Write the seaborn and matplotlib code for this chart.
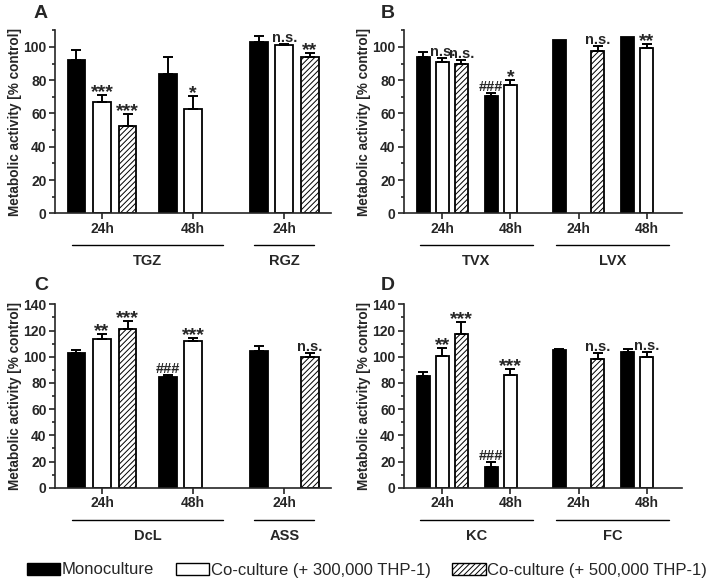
import matplotlib
matplotlib.use("Agg")
import pandas as pd
import matplotlib.pyplot as plt
import matplotlib.patches as mpatches
import matplotlib.transforms as mtrans
from matplotlib.ticker import MultipleLocator
import seaborn as sns

CONDITIONS = [
    "Monoculture",
    "Co-culture (+ 300,000 THP-1)",
    "Co-culture (+ 500,000 THP-1)",
]
PALETTE = dict(zip(CONDITIONS, ["black", "white", "white"]))

# Panel A
A_CATS = ["TGZ 24h", "TGZ 24h", "TGZ 24h", "TGZ 48h", "TGZ 48h", "RGZ 24h", "RGZ 24h", "RGZ 24h"]
A_COND = [0, 1, 2, 0, 1, 0, 1, 2]
A_MEAN = [92, 67, 52.5, 84, 62.5, 103, 101, 94]
A_ERR = [6, 4, 7, 10, 8, 3.5, 1, 2.5]
A_MARK = ["", "***", "***", "", "*", "", "n.s.", "**"]

# Panel B
B_CATS = ["TVX 24h", "TVX 24h", "TVX 24h", "TVX 48h", "TVX 48h", "LVX 24h", "LVX 24h", "LVX 48h", "LVX 48h"]
B_COND = [0, 1, 2, 0, 1, 0, 2, 0, 1]
B_MEAN = [94, 91, 89.5, 70.5, 77, 104, 97.5, 106, 99.5]
B_ERR = [3, 2.5, 2.5, 2, 3, 0, 3, 0, 2]
B_MARK = ["", "n.s.", "n.s.", "###", "*", "", "n.s.", "", "**"]

# Panel C
C_CATS = ["DcL 24h", "DcL 24h", "DcL 24h", "DcL 48h", "DcL 48h", "ASS 24h", "ASS 24h"]
C_COND = [0, 1, 2, 0, 1, 0, 2]
C_MEAN = [103, 113.5, 121, 84.5, 112, 104.5, 100]
C_ERR = [2, 3.5, 6, 1.5, 2, 3.5, 3]
C_MARK = ["", "**", "***", "###", "***", "", "n.s."]

# Panel D
D_CATS = ["KC 24h", "KC 24h", "KC 24h", "KC 48h", "KC 48h", "FC 24h", "FC 24h", "FC 48h", "FC 48h"]
D_COND = [0, 1, 2, 0, 1, 0, 2, 0, 1]
D_MEAN = [85.5, 100.5, 117.5, 15.5, 86, 105, 98.5, 103.5, 100]
D_ERR = [2.5, 6, 9, 4, 5, 1, 4, 2.5, 3.5]
D_MARK = ["", "**", "***", "###", "***", "", "n.s.", "", "n.s."]


def draw_panel(ax, cats, cond, mean, err, mark, ymax):
    df = pd.DataFrame({
        "cat": cats,
        "condition": [CONDITIONS[c] for c in cond],
        "mean": mean,
        "err": err,
        "mark": mark,
    })
    order = list(dict.fromkeys(cats))
    sns.barplot(
        data=df, x="cat", y="mean", hue="condition",
        order=order, hue_order=CONDITIONS, palette=PALETTE,
        width=0.84, gap=0.3, saturation=1, errorbar=None,
        edgecolor="black", linewidth=1.3, legend=False, ax=ax,
    )
    bar_containers = list(ax.containers)
    for i, container in enumerate(bar_containers):
        for bar in container:
            if bar is None:
                continue
            xc = bar.get_x() + bar.get_width() / 2
            cat = order[int(round(xc))]
            row = df[(df["cat"] == cat) & (df["condition"] == CONDITIONS[i])].iloc[0]
            if i == 2:
                bar.set_hatch("//////")
            top = row["mean"] + row["err"]
            if row["err"] > 0:
                ax.errorbar(xc, row["mean"], yerr=[[0], [row["err"]]], fmt="none",
                            ecolor="black", elinewidth=1.4, capsize=3.6, capthick=1.4)
            m = row["mark"]
            if m.startswith("*"):
                ax.annotate(m, (xc, top), xytext=(0, -1.5), textcoords="offset points",
                            ha="center", va="baseline", fontsize=14, fontweight="bold")
            elif m:
                ax.annotate(m, (xc, top), xytext=(0, 1.5), textcoords="offset points",
                            ha="center", va="baseline", fontsize=10.5, fontweight="bold")

    ax.set_ylim(0, ymax)
    ax.set_yticks(range(0, ymax + 1, 20))
    ax.yaxis.set_minor_locator(MultipleLocator(10))
    ax.set_xticks(range(len(order)))
    ax.set_xticklabels([c.split()[1] for c in order], fontweight="bold", fontsize=10)
    for lab in ax.get_yticklabels():
        lab.set_fontweight("bold")
        lab.set_fontsize(10)
    ax.set_xlabel("")
    ax.set_ylabel("Metabolic activity [% control]", fontweight="bold", fontsize=9.8, labelpad=1)
    ax.tick_params(axis="both", which="major", length=4.5, width=1.2, pad=1.5)
    ax.tick_params(axis="y", which="minor", length=2.5, width=1.2)
    sns.despine(ax=ax)
    for s in ["left", "bottom"]:
        ax.spines[s].set_linewidth(1.2)

    # drug group underline + label
    trans = mtrans.blended_transform_factory(ax.transData, ax.transAxes)
    h_px = ax.get_position().height * 585
    drugs = list(dict.fromkeys(c.split()[0] for c in order))
    for d in drugs:
        idx = [k for k, c in enumerate(order) if c.split()[0] == d]
        lo, hi = min(idx) - 0.33, max(idx) + 0.33
        ax.plot([lo, hi], [-32 / h_px] * 2, color="black", lw=1.0,
                transform=trans, clip_on=False)
        ax.text((lo + hi) / 2, -41 / h_px, d, transform=trans, ha="center", va="top",
                fontsize=10.5, fontweight="bold")


sns.set_style("ticks")
plt.rcParams["font.family"] = ["Liberation Sans", "DejaVu Sans"]
plt.rcParams["hatch.linewidth"] = 0.7
plt.rcParams["hatch.color"] = "black"

fig = plt.figure(figsize=(7.14, 5.85), dpi=100)
ax_a = fig.add_axes([0.077, 0.6354, 0.387, 0.3128])
ax_b = fig.add_axes([0.5658, 0.6354, 0.389, 0.3128])
ax_c = fig.add_axes([0.077, 0.1663, 0.387, 0.3135])
ax_d = fig.add_axes([0.5658, 0.1663, 0.389, 0.3135])

draw_panel(ax_a, A_CATS, A_COND, A_MEAN, A_ERR, A_MARK, 110)
draw_panel(ax_b, B_CATS, B_COND, B_MEAN, B_ERR, B_MARK, 110)
draw_panel(ax_c, C_CATS, C_COND, C_MEAN, C_ERR, C_MARK, 140)
draw_panel(ax_d, D_CATS, D_COND, D_MEAN, D_ERR, D_MARK, 140)

for letter, x, y in [("A", 41, 14), ("B", 388, 14), ("C", 41, 285), ("D", 388, 285)]:
    fig.text(x / 714, 1 - y / 585, letter, ha="center", va="center",
             fontsize=14, fontweight="bold")

handles = [
    mpatches.Patch(facecolor="black", edgecolor="black", linewidth=1.0),
    mpatches.Patch(facecolor="white", edgecolor="black", linewidth=1.0),
    mpatches.Patch(facecolor="white", edgecolor="black", linewidth=1.0, hatch="//////"),
]
fig.legend(handles, CONDITIONS, loc="center", bbox_to_anchor=(367 / 714, 1 - 570 / 585),
           ncol=3, frameon=False, fontsize=12, handlelength=2.0, handleheight=0.7,
           handletextpad=0.1, columnspacing=1.3, borderpad=0.2)

fig.savefig("out.png", dpi=100)
